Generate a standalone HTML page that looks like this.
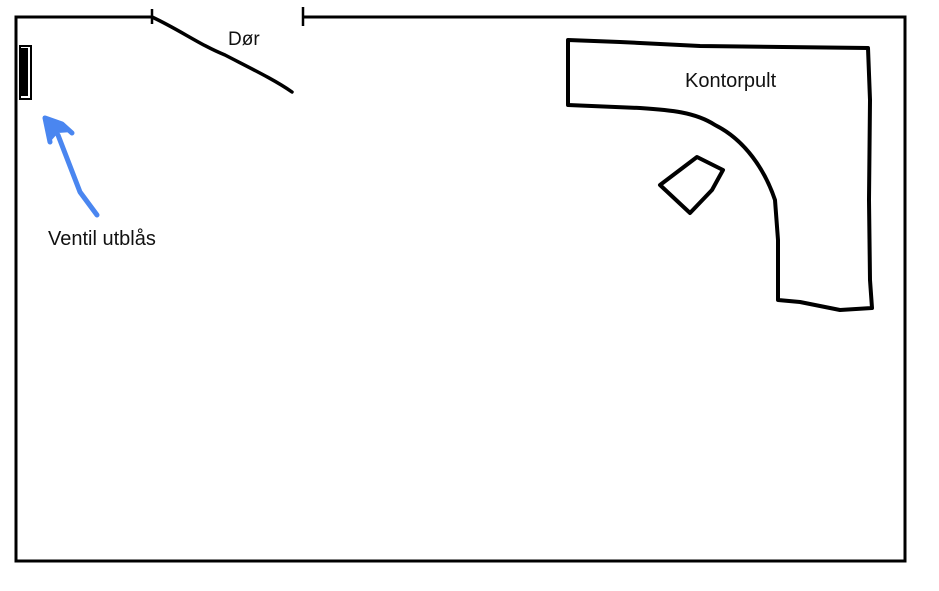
<!DOCTYPE html>
<html><head><style>
body{margin:0;background:#fff;width:939px;height:591px;overflow:hidden}
svg{display:block}
text{font-family:"Liberation Sans",sans-serif;fill:#111}
</style></head><body>
<svg width="939" height="591" viewBox="0 0 939 591">
<path d="M152 17 L16 17 L16 561 L905 561 L905 17 L303 17" fill="none" stroke="#000" stroke-width="3"/>
<line x1="152" y1="9" x2="152" y2="24" stroke="#000" stroke-width="2.5"/>
<line x1="303" y1="7" x2="303" y2="26" stroke="#000" stroke-width="2.5"/>
<path d="M152 17 C180 30 200 45 225 55 C250 68 275 80 292 92" fill="none" stroke="#000" stroke-width="3.5" stroke-linecap="round"/>
<text x="228" y="45" font-size="19">Dør</text>
<rect x="20" y="46" width="11" height="53" fill="none" stroke="#000" stroke-width="2"/>
<rect x="21" y="48" width="7" height="48" fill="#000"/>
<path d="M97 215 L80 192 L58 135 M45 118 L50 142 M45 118 L62 124 L72 133" fill="none" stroke="#4a86f0" stroke-width="5" stroke-linecap="round" stroke-linejoin="round"/>
<path d="M43 116 L60 122 L72 132 L58 133 L50 142 Z" fill="#4a86f0"/>
<text x="48" y="245" font-size="20">Ventil utblås</text>
<path d="M568 40 L620 42 L700 46 L868 48 L870 100 L869 200 L870 280 L872 308 L840 310 L800 302 L778 300 L778 240 L775 200 C765 170 745 140 715 125 C695 112 670 110 640 108 L568 105 Z" fill="none" stroke="#000" stroke-width="4" stroke-linejoin="round"/>
<text x="685" y="87" font-size="20">Kontorpult</text>
<path d="M660 185 L697 157 L723 170 L712 190 L690 213 Z" fill="none" stroke="#000" stroke-width="4" stroke-linejoin="round"/>
</svg>
</body></html>
